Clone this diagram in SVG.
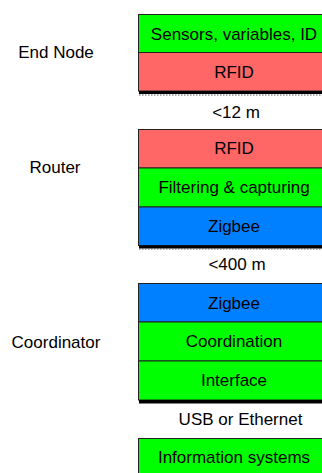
<svg xmlns="http://www.w3.org/2000/svg" width="322" height="473" viewBox="0 0 322 473">
<style>
text{font-family:"Liberation Sans",Arial,sans-serif;font-size:17px;fill:#000;text-anchor:middle}
.b{stroke:#222;stroke-width:1}
.g{fill:#00ff00}
.r{fill:#ff6666}
.u{fill:#0080ff}
.sh{fill:#000}
.dot{stroke:#555;stroke-width:1;stroke-dasharray:1.5 1.5;fill:none}
</style>
<rect width="322" height="473" fill="#fff"/>
<g id="end-node">
<text x="56" y="58">End Node</text>
<rect class="b g" x="138.5" y="14.5" width="200" height="38"/>
<text x="234" y="39.5">Sensors, variables, ID</text>
<rect class="b r" x="138.5" y="52.5" width="200" height="38.5"/>
<text x="234" y="78">RFID</text>
<rect class="sh" x="139" y="91" width="190" height="3"/>
<line class="dot" x1="139" y1="95" x2="322" y2="95"/>
</g>
<g id="router">
<text x="55" y="173">Router</text>
<rect class="b r" x="138.5" y="129.5" width="200" height="38.5"/>
<text x="234" y="154">RFID</text>
<rect class="b g" x="138.5" y="168" width="200" height="39"/>
<text x="234" y="193">Filtering &amp; capturing</text>
<rect class="b u" x="138.5" y="207" width="200" height="38.5"/>
<text x="234" y="232">Zigbee</text>
<rect class="sh" x="139" y="245.5" width="190" height="3"/>
<line class="dot" x1="139" y1="249" x2="322" y2="249"/>
</g>
<g id="coordinator">
<text x="56" y="348">Coordinator</text>
<rect class="b u" x="138.5" y="283.5" width="200" height="38.5"/>
<text x="234" y="308.5">Zigbee</text>
<rect class="b g" x="138.5" y="322" width="200" height="39"/>
<text x="234" y="347">Coordination</text>
<rect class="b g" x="138.5" y="361" width="200" height="39"/>
<text x="234" y="385.5">Interface</text>
<rect class="sh" x="139" y="400" width="190" height="3.5"/>
</g>
<g id="information-systems">
<rect class="b g" x="138.5" y="438.5" width="200" height="40"/>
<text x="234" y="463">Information systems</text>
</g>
<g id="connectors">
<text x="236" y="118">&lt;12 m</text>
<text x="237" y="270">&lt;400 m</text>
<text x="240.5" y="425">USB or Ethernet</text>
</g>
</svg>
